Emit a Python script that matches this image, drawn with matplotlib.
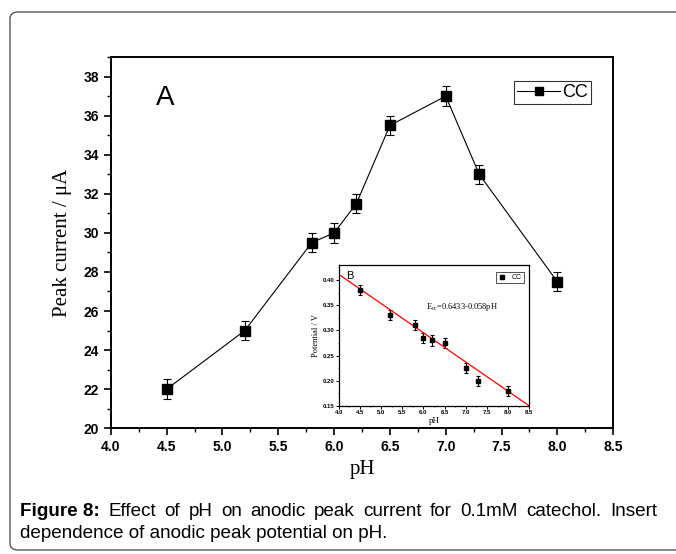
import matplotlib.pyplot as plt
from matplotlib.patches import FancyBboxPatch
from matplotlib.lines import Line2D
from matplotlib.ticker import MultipleLocator

# main plot: peak current vs pH
ph = [4.5, 5.2, 5.8, 6.0, 6.2, 6.5, 7.0, 7.3, 8.0]
current = [22.0, 25.0, 29.5, 30.0, 31.5, 35.5, 37.0, 33.0, 27.5]
current_err = [0.5, 0.5, 0.5, 0.5, 0.5, 0.5, 0.5, 0.5, 0.5]

# inset: peak potential vs pH
potential = [0.38, 0.33, 0.31, 0.285, 0.28, 0.275, 0.225, 0.20, 0.18]
potential_err = [0.01, 0.01, 0.01, 0.01, 0.01, 0.01, 0.01, 0.01, 0.01]
fit_intercept = 0.6433
fit_slope = -0.058
fit_ph = [4.0, 8.5]

caption1 = ['Effect', 'of', 'pH', 'on', 'anodic', 'peak', 'current', 'for',
            '0.1mM', 'catechol.', 'Insert']
caption2 = 'dependence of anodic peak potential on pH.'

sans = 'Liberation Sans'
serif = 'Liberation Serif'
cap_size = 13.6

fig = plt.figure(figsize=(6.76, 5.54), dpi=100)

# rounded frame around figure + caption
frame = FancyBboxPatch((10 / 676, 4 / 554), 700 / 676, 538 / 554,
                       boxstyle='round,pad=0,rounding_size=0.012',
                       transform=fig.transFigure, fill=False,
                       edgecolor='#555555', linewidth=1.0, clip_on=False)
fig.patches.append(frame)

ax = fig.add_axes([0.164, 0.227, 0.743, 0.670])
ax.errorbar(ph, current, yerr=current_err, color='black', marker='s',
            markersize=7, linewidth=0.8, elinewidth=0.8, capsize=3,
            capthick=0.8)
ax.set_xlim(4.0, 8.5)
ax.set_ylim(20, 39)
ax.xaxis.set_major_locator(MultipleLocator(0.5))
ax.xaxis.set_minor_locator(MultipleLocator(0.25))
ax.yaxis.set_major_locator(MultipleLocator(2))
ax.yaxis.set_minor_locator(MultipleLocator(1))
ax.tick_params(which='major', direction='out', length=5, width=1.2)
ax.tick_params(which='minor', direction='out', length=3, width=1.0)
for s in ax.spines.values():
    s.set_linewidth(1.4)
for lab in ax.get_xticklabels() + ax.get_yticklabels():
    lab.set_fontfamily(sans)
    lab.set_fontweight('bold')
    lab.set_fontsize(10)
ax.set_xlabel('pH', fontfamily=serif, fontsize=15)
ax.set_ylabel('Peak current / \u03bcA', fontfamily=serif, fontsize=15, labelpad=8)
ax.text(0.09, 0.87, 'A', transform=ax.transAxes, fontfamily=sans, fontsize=20)
h_main = Line2D([], [], color='black', marker='s', markersize=6, linewidth=0.8)
leg = ax.legend([h_main], ['CC'], loc='upper right', bbox_to_anchor=(0.955, 0.935),
                prop={'family': sans, 'size': 13}, frameon=True,
                fancybox=False, handlelength=2.4, handletextpad=0.1,
                borderpad=0.15, borderaxespad=0)
leg.get_frame().set_edgecolor('black')
leg.get_frame().set_linewidth(0.8)

# inset
ins = fig.add_axes([0.501, 0.267, 0.282, 0.255])
ins.errorbar(ph, potential, yerr=potential_err, color='black', marker='s',
             markersize=3.5, linestyle='none', elinewidth=0.8, capsize=1.5,
             capthick=0.8)
ins.plot(fit_ph, [fit_intercept + fit_slope * p for p in fit_ph],
         color='red', linewidth=0.9)
ins.set_xlim(4.0, 8.5)
ins.set_ylim(0.15, 0.43)
ins.xaxis.set_minor_locator(MultipleLocator(0.25))
ins.yaxis.set_minor_locator(MultipleLocator(0.025))
ins.tick_params(which='major', direction='out', length=2, width=0.7, pad=1)
ins.tick_params(which='minor', direction='out', length=1, width=0.6)
for s in ins.spines.values():
    s.set_linewidth(0.9)
ins.set_xticks([4.0, 4.5, 5.0, 5.5, 6.0, 6.5, 7.0, 7.5, 8.0, 8.5])
ins.set_xticklabels(['4.0', '4.5', '5.0', '5.5', '6.0', '6.5', '7.0', '7.5', '8.0', '8.5'])
ins.set_yticks([0.15, 0.20, 0.25, 0.30, 0.35, 0.40])
ins.set_yticklabels(['0.15', '0.20', '0.25', '0.30', '0.35', '0.40'])
for lab in ins.get_xticklabels() + ins.get_yticklabels():
    lab.set_fontfamily(sans)
    lab.set_fontweight('bold')
    lab.set_fontsize(4.3)
ins.set_xlabel('pH', fontfamily=serif, fontsize=6.5, labelpad=1)
ins.set_ylabel('Potential / V', fontfamily=serif, fontsize=6, labelpad=2)
ins.text(0.04, 0.9, 'B', transform=ins.transAxes, fontfamily=sans, fontsize=8)
ins.text(6.05, 0.342, '$\\mathregular{E_{cc}}$=0.6433-0.058pH',
         fontfamily=serif, fontsize=6)
h_ins = Line2D([], [], color='black', marker='s', markersize=3, linestyle='none')
ileg = ins.legend([h_ins], ['CC'], loc='upper right', bbox_to_anchor=(0.97, 0.95),
                  prop={'family': sans, 'size': 5}, frameon=True,
                  fancybox=False, handlelength=1.2, handletextpad=0.8,
                  borderpad=0.3, borderaxespad=0)
ileg.get_frame().set_edgecolor('black')
ileg.get_frame().set_linewidth(0.6)

# caption, first line justified between left and right margins
cap_y1 = 1 - 511 / 554
cap_y2 = 1 - 533 / 554
left_px, right_px = 20, 657
fig.canvas.draw()
renderer = fig.canvas.get_renderer()
words = [fig.text(0, cap_y1, 'Figure 8:', fontfamily=sans, fontweight='bold',
                  fontsize=cap_size, va='center')]
words += [fig.text(0, cap_y1, w, fontfamily=sans, fontsize=cap_size, va='center')
          for w in caption1]
widths = [t.get_window_extent(renderer).width for t in words]
gap = (right_px - left_px - sum(widths)) / (len(words) - 1)
x = left_px
for t, w in zip(words, widths):
    t.set_x(x / 676)
    x += w + gap
fig.text(left_px / 676, cap_y2, caption2, fontfamily=sans, fontsize=cap_size,
         va='center')

fig.savefig('out.png', dpi=100)
